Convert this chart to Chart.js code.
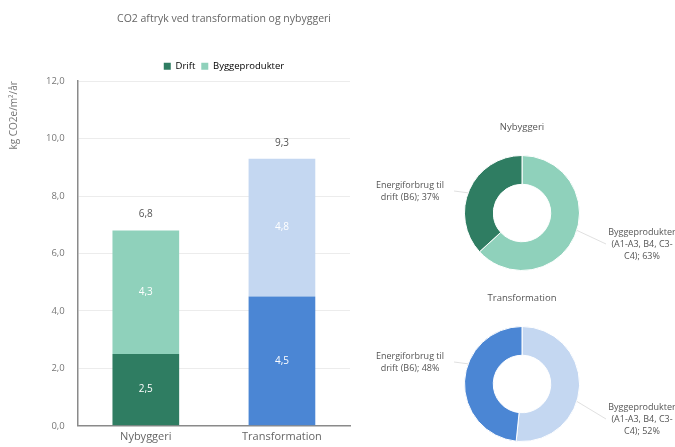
<!DOCTYPE html>
<html><head><meta charset="utf-8">
<script src="https://cdn.jsdelivr.net/npm/chart.js@4/dist/chart.umd.min.js"></script>
<style>
html,body{margin:0;padding:0;background:#fff;width:675px;height:447px;overflow:hidden;font-family:"Open Sans",sans-serif}
canvas{position:absolute}
#bar{left:0;top:0}
#d1{left:360px;top:100px}
#d2{left:360px;top:280px}
</style></head><body>
<canvas id="bar" width="444" height="447"></canvas>
<canvas id="d1" width="315" height="180"></canvas>
<canvas id="d2" width="315" height="167"></canvas>
<script>
const categories = ['Nybyggeri', 'Transformation'];
const seriesNames = ['Drift', 'Byggeprodukter'];
const driftValues = [2.5, 4.5];
const produktValues = [4.3, 4.8];
const yTicks = [0, 2, 4, 6, 8, 10, 12];
const donutTitles = ['Nybyggeri', 'Transformation'];
const driftLabel = ['Energiforbrug til', 'drift (B6); '];
const produktLabel = ['Byggeprodukter', '(A1-A3, B4, C3-', 'C4); '];

const driftColors = ['#2f7d62', '#4b86d4'];
const produktColors = ['#8fd1bb', '#c4d7f1'];
const FONT = '"Open Sans", sans-serif';
const fmt = v => v.toFixed(1).replace('.', ',');

const barLabels = {
  id: 'barLabels',
  afterDatasetsDraw(chart) {
    const ctx = chart.ctx;
    ctx.save();
    ctx.font = '10px ' + FONT;
    ctx.textAlign = 'center';
    ctx.textBaseline = 'middle';
    chart.data.datasets.forEach((ds, di) => {
      chart.getDatasetMeta(di).data.forEach((el, i) => {
        const top = Math.min(el.y, el.base), bot = Math.max(el.y, el.base);
        ctx.fillStyle = '#ffffff';
        ctx.fillText(fmt(ds.data[i]), el.x, (top + bot) / 2);
      });
    });
    const last = chart.getDatasetMeta(chart.data.datasets.length - 1).data;
    last.forEach((el, i) => {
      const total = driftValues[i] + produktValues[i];
      ctx.fillStyle = '#555';
      ctx.fillText(fmt(total), el.x, el.y - 16);
    });
    ctx.restore();
  }
};

new Chart(document.getElementById('bar'), {
  type: 'bar',
  data: {
    labels: categories,
    datasets: [
      { label: seriesNames[0], data: driftValues, backgroundColor: driftColors, borderWidth: 0 },
      { label: seriesNames[1], data: produktValues, backgroundColor: produktColors, borderWidth: 0 }
    ]
  },
  options: {
    responsive: false, animation: false,
    layout: { padding: { left: 4, right: 0, top: 9, bottom: 0 } },
    datasets: { bar: { categoryPercentage: 1, barPercentage: 0.49 } },
    plugins: {
      title: { display: true, text: 'CO2 aftryk ved transformation og nybyggeri', color: '#666', font: { family: FONT, size: 10.5, weight: 'normal' }, padding: { top: 4, bottom: 30 } },
      legend: {
        display: true, position: 'top',
        labels: {
          boxWidth: 7, boxHeight: 7, padding: 6, color: '#666', font: { family: FONT, size: 9.5 },
          generateLabels: () => seriesNames.map((n, i) => ({ text: n, fillStyle: i === 0 ? driftColors[0] : produktColors[0], strokeStyle: 'transparent', lineWidth: 0, datasetIndex: i }))
        }
      },
      tooltip: { enabled: false }
    },
    scales: {
      x: {
        stacked: true,
        grid: { display: false, drawTicks: false },
        border: { display: true, color: '#8a8a8a', width: 1.5 },
        ticks: { color: '#666', font: { family: FONT, size: 11 }, padding: 4 }
      },
      y: {
        stacked: true, min: yTicks[0], max: yTicks[yTicks.length - 1],
        afterBuildTicks: s => { s.ticks = yTicks.map(v => ({ value: v })); },
        grid: { color: '#ececec', drawTicks: false },
        border: { display: true, color: '#8a8a8a', width: 1.5 },
        ticks: { color: '#777', font: { family: FONT, size: 9.5 }, padding: 13, callback: v => fmt(v) },
        title: { display: true, text: 'kg CO2e/m²/år', align: 'end', color: '#777', font: { family: FONT, size: 10 }, padding: { bottom: 13 } }
      },
      y2: {
        position: 'right', display: true, min: 0, max: 1,
        grid: { display: false, drawTicks: false }, border: { display: false },
        ticks: { display: false },
        afterFit: s => { s.width = 94; }
      }
    }
  },
  plugins: [barLabels]
});

function donut(id, idx, pad) {
  const drift = driftValues[idx], prod = produktValues[idx];
  const total = drift + prod;
  const pDrift = Math.round(drift / total * 100), pProd = Math.round(prod / total * 100);
  const textPlugin = {
    id: 'donutText' + idx,
    afterDraw(chart) {
      const ctx = chart.ctx;
      const a = chart.getDatasetMeta(0).data[0];
      const cx = a.x, cy = a.y, r = a.outerRadius;
      ctx.save();
      ctx.fillStyle = '#555';
      ctx.textAlign = 'center';
      ctx.textBaseline = 'middle';
      ctx.font = '9.5px ' + FONT;
      ctx.fillText(donutTitles[idx], cx, cy - r - 28);
      ctx.font = '9px ' + FONT;
      const lx = cx - 112, ly = cy - 28;
      const ll = [driftLabel[0], driftLabel[1] + pDrift + '%'];
      ll.forEach((t, k) => ctx.fillText(t, lx, ly + k * 12));
      const rx = cx + 120, ry = cy + 19 + (idx === 1 ? 4 : 0);
      const rl = [produktLabel[0], produktLabel[1], produktLabel[2] + pProd + '%'];
      rl.forEach((t, k) => ctx.fillText(t, rx, ry + k * 12));
      ctx.strokeStyle = '#d8d8d8';
      ctx.lineWidth = 0.8;
      ctx.beginPath();
      ctx.moveTo(lx + 44, ly + 6); ctx.lineTo(cx - r * 0.93, cy - r * 0.35);
      ctx.moveTo(rx - 36, ry + 12); ctx.lineTo(cx + r * 0.95, cy + r * 0.3);
      ctx.stroke();
      ctx.restore();
    }
  };
  new Chart(document.getElementById(id), {
    type: 'doughnut',
    data: {
      labels: [seriesNames[1], seriesNames[0]],
      datasets: [{ data: [prod, drift], backgroundColor: [produktColors[idx], driftColors[idx]], borderColor: '#ffffff', borderWidth: 1 }]
    },
    options: {
      responsive: false, animation: false, cutout: '50%',
      layout: { padding: pad },
      plugins: { legend: { display: false }, tooltip: { enabled: false }, title: { display: false } }
    },
    plugins: [textPlugin]
  });
}
donut('d1', 0, { left: 104, right: 95, top: 55, bottom: 9 });
donut('d2', 1, { left: 104, right: 95, top: 46, bottom: 5 });
</script>
</body></html>
